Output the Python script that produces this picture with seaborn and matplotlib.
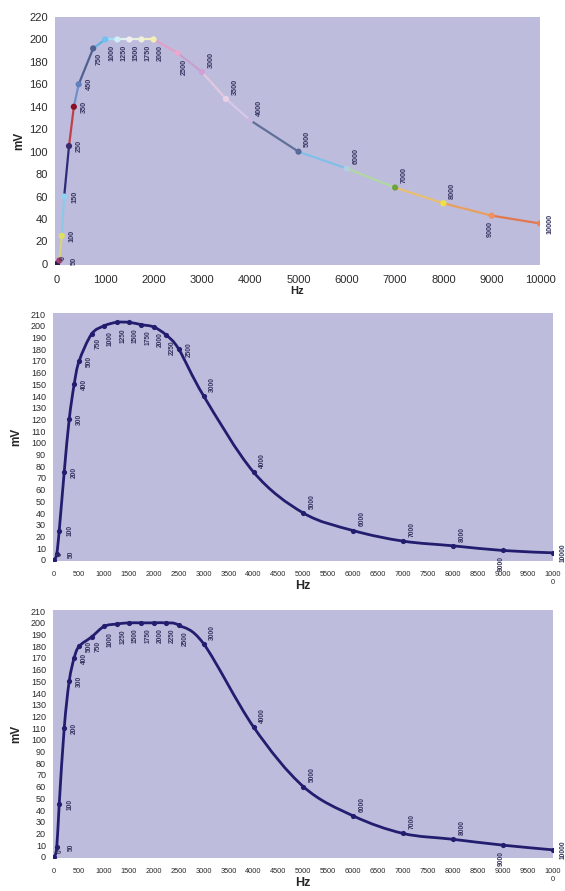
import numpy as np
import pandas as pd
import matplotlib
matplotlib.use("Agg")
import matplotlib.pyplot as plt
from matplotlib.path import Path
from matplotlib.patches import PathPatch
import seaborn as sns

W, H, DPI = 565, 891, 100
BG = "#BEBCDD"
NAVY = "#221d6e"
LABEL_C = "#35345f"

# panel 1 (coloured segments)
hz_a = [0, 50, 100, 150, 250, 350, 450, 750, 1000, 1250, 1500, 1750, 2000,
        2500, 3000, 3500, 4000, 5000, 6000, 7000, 8000, 9000, 10000]
mv_a = [0, 3, 25, 60, 105, 140, 160, 192, 200, 200, 200, 200, 200,
        188, 171, 147, 128, 100, 85, 68, 54, 43, 36]

# panel 2
hz_b = [0, 50, 100, 200, 300, 400, 500, 750, 1000, 1250, 1500, 1750, 2000,
        2250, 2500, 3000, 4000, 5000, 6000, 7000, 8000, 9000, 10000]
mv_b = [0, 5, 25, 75, 120, 150, 170, 193, 200, 203, 203, 201, 199,
        192, 180, 140, 75, 40, 25, 16, 12, 8, 6]

# panel 3
hz_c = [0, 50, 100, 200, 300, 400, 500, 750, 1000, 1250, 1500, 1750, 2000,
        2250, 2500, 3000, 4000, 5000, 6000, 7000, 8000, 9000, 10000]
mv_c = [0, 8, 45, 110, 150, 170, 180, 188, 197, 199, 200, 200, 200,
        200, 198, 182, 111, 60, 35, 20, 15, 10, 6]

SEG_COLORS = ["#7a2a5a", "#d8d27a", "#8ec8e8", "#2c2c7a", "#c0404a", "#7090c8",
              "#506090", "#60b0e0", "#a0e0f0", "#e0f0f0", "#e8f0e0", "#f0f0c0",
              "#e0a0c8", "#c8a0d0", "#e0c8e0", "#d8c8e8", "#607098", "#80c0e8",
              "#b0d8a0", "#e8c070", "#e8a060", "#e07850"]
DOT_COLORS = ["#2a1a50", "#a04070", "#e0e060", "#90d0f0", "#3a2a70", "#8a1020",
              "#6080c0", "#506090", "#70c0f0", "#d0f0f8", "#f0f0f0", "#f0f0d8",
              "#f0f0b0", "#e8a8d0", "#d0a0d8", "#e8d0e8", "#c8b8e0", "#5a6a98",
              "#b0d0e0", "#70a040", "#f0e040", "#f09060", "#f08050"]

sns.set_theme(style="white")
plt.rcParams["font.family"] = ["Liberation Sans", "DejaVu Sans"]

fig = plt.figure(figsize=(W / DPI, H / DPI), dpi=DPI)


def px_axes(l, t, r, b):
    return fig.add_axes([l / W, 1 - b / H, (r - l) / W, (b - t) / H])


def smooth_path(x, y):
    # Catmull-Rom -> cubic bezier, like Excel's "smoothed line"
    p = np.column_stack([x, y]).astype(float)
    n = len(p)
    verts, codes = [p[0]], [Path.MOVETO]
    for i in range(n - 1):
        p0, p1, p2, p3 = p[max(i - 1, 0)], p[i], p[i + 1], p[min(i + 2, n - 1)]
        verts += [p1 + (p2 - p0) / 6, p2 - (p3 - p1) / 6, p2]
        codes += [Path.CURVE4] * 3
    return Path(verts, codes)


def style(ax, xlim, ylim, yticks, tick_fs, xfs):
    ax.set_facecolor(BG)
    ax.set_xlim(*xlim)
    ax.set_ylim(*ylim)
    ax.set_yticks(yticks)
    for s in ax.spines.values():
        s.set_visible(False)
    ax.tick_params(length=0, colors="#2a2a2a")
    ax.tick_params(axis="y", labelsize=tick_fs, pad=5)
    ax.tick_params(axis="x", labelsize=xfs, pad=7)


def point_labels(ax, hz, mv, fs=5):
    top = max(mv)
    for x, y in zip(hz, mv):
        if x == 0:
            off, ha, va = (2, 3), "left", "bottom"
        elif x == 50:
            off, ha, va = (8, 0), "left", "center"
        elif x == 10000:
            off, ha, va = (5, 0), "left", "center"
        elif x == 9000:
            off, ha, va = (-1, -4), "center", "top"
        elif x == 750:
            off, ha, va = (2, -3), "left", "top"
        elif 1000 <= x < 3000 and y > 0.9 * top:
            off, ha, va = (2, -4), "left", "top"
        elif x >= 3000:
            off, ha, va = (4, 3), "left", "bottom"
        else:
            off, ha, va = (5, 0), "left", "center"
        ax.annotate(str(x), (x, y), xytext=off, textcoords="offset points",
                    rotation=90, fontsize=fs, color=LABEL_C, ha=ha, va=va,
                    fontweight="bold", annotation_clip=False)


# ---- panel 1 ----
ax1 = px_axes(55, 17, 540, 265)
style(ax1, (-40, 10000), (-1, 220), range(0, 221, 20), 8, 8)
ax1.set_xticks(range(0, 10001, 1000))
rows = []
for i in range(len(hz_a) - 1):
    rows += [(f"s{i:02d}", hz_a[i], mv_a[i]), (f"s{i:02d}", hz_a[i + 1], mv_a[i + 1])]
seg = pd.DataFrame(rows, columns=["seg", "Hz", "mV"])
sns.lineplot(data=seg, x="Hz", y="mV", hue="seg", palette=SEG_COLORS, legend=False,
             estimator=None, sort=False, lw=1.6, ax=ax1)
sns.scatterplot(x=hz_a, y=mv_a, hue=[f"p{i:02d}" for i in range(len(hz_a))],
                palette=DOT_COLORS, legend=False, s=20, linewidth=0, ax=ax1, zorder=3)
point_labels(ax1, hz_a, mv_a, fs=5.2)
ax1.set_xlabel("Hz", fontsize=8, fontweight="bold")
ax1.set_ylabel("mV", fontsize=8.5, fontweight="bold")
ax1.xaxis.set_label_coords(0.5, -0.085)
ax1.yaxis.set_label_coords(-0.062, 0.5)

# ---- panels 2 and 3 ----
for (t, b), hz, mv in [((313, 561), hz_b, mv_b), ((610, 858), hz_c, mv_c)]:
    ax = px_axes(53, t, 553, b)
    style(ax, (-25, 10010), (-1, 211), range(0, 211, 10), 6.5, 5.3)
    ticks = list(range(0, 10001, 500))
    ax.set_xticks(ticks)
    ax.set_xticklabels([str(v) for v in ticks[:-1]] + ["1000\n0"])
    ax.add_patch(PathPatch(smooth_path(hz, mv), fill=False, ec=NAVY, lw=2.0,
                           transform=ax.transData, zorder=2))
    sns.scatterplot(x=hz, y=mv, color=NAVY, s=14, linewidth=0, ax=ax, zorder=3)
    point_labels(ax, hz, mv, fs=4.8)
    ax.set_xlabel("Hz", fontsize=9, fontweight="bold")
    ax.set_ylabel("mV", fontsize=8.5, fontweight="bold")
    ax.xaxis.set_label_coords(0.5, -0.075)
    ax.yaxis.set_label_coords(-0.062, 0.5)

fig.savefig("out.png", dpi=DPI)
